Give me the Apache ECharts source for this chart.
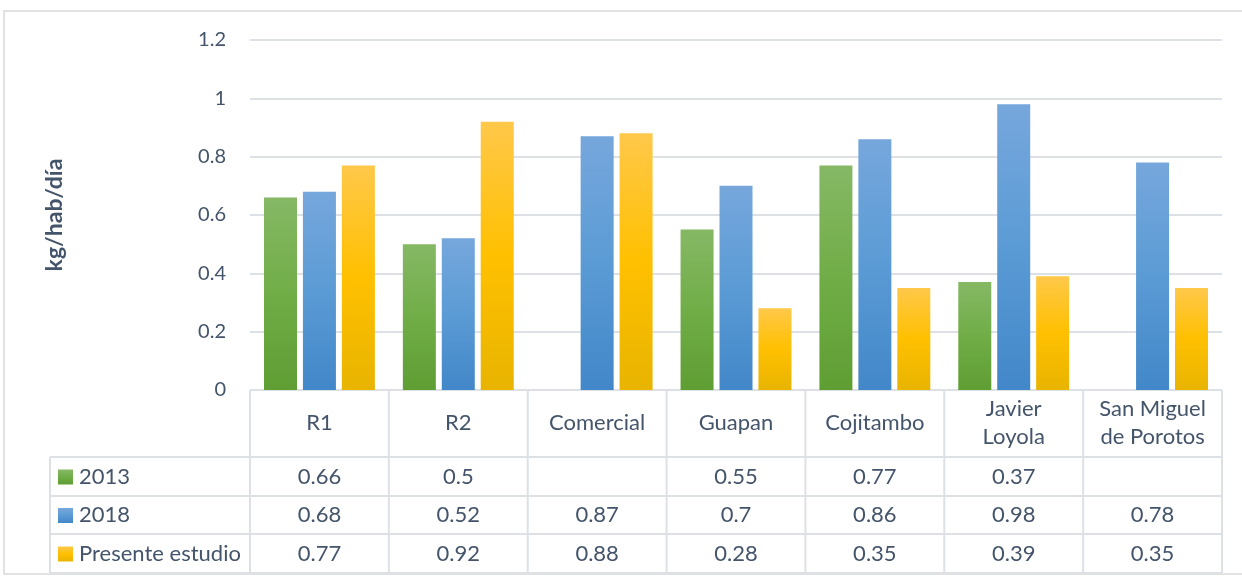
<!DOCTYPE html>
<html>
<head>
<meta charset="utf-8">
<script src="https://cdn.jsdelivr.net/npm/echarts@6/dist/echarts.min.js"></script>
<style>
  html, body { margin: 0; padding: 0; background: #fff; }
  #chart { width: 1242px; height: 577px; }
</style>
</head>
<body>
<div id="chart"></div>
<script>
const categories = ["R1", "R2", "Comercial", "Guapan", "Cojitambo", "Javier\nLoyola", "San Miguel\nde Porotos"];
const seriesNames = ["2013", "2018", "Presente estudio"];
const values2013 = [0.66, 0.5, null, 0.55, 0.77, 0.37, null];
const values2018 = [0.68, 0.52, 0.87, 0.7, 0.86, 0.98, 0.78];
const valuesPresente = [0.77, 0.92, 0.88, 0.28, 0.35, 0.39, 0.35];
const yTicks = [0, 0.2, 0.4, 0.6, 0.8, 1, 1.2];

const font = "Lato, 'Open Sans', sans-serif";
const textColor = "#44546a";
const lineColor = "#dde1e6";

function grad(top, mid, bottom) {
  return new echarts.graphic.LinearGradient(0, 0, 0, 1, [
    { offset: 0, color: top },
    { offset: 0.5, color: mid },
    { offset: 1, color: bottom }
  ]);
}
const fills = [
  grad("#86b865", "#70ad47", "#5f9e33"),
  grad("#76a7dc", "#5b9bd5", "#4287c9"),
  grad("#ffc84a", "#ffc000", "#e8b400")
];
const allValues = [values2013, values2018, valuesPresente];

const chart = echarts.init(document.getElementById("chart"));

const gridLeft = 250, gridRight = 1222, gridTop = 40, gridBottom = 390;
const rowLines = [390, 457, 496, 534, 573];
const tableLeft = 50;

chart.setOption({
  animation: false,
  grid: { left: gridLeft, top: gridTop, width: gridRight - gridLeft, height: gridBottom - gridTop },
  xAxis: {
    type: "category",
    data: categories,
    axisLine: { show: false },
    axisTick: { show: false },
    axisLabel: { show: false }
  },
  yAxis: {
    type: "value",
    min: 0,
    max: 1.2,
    interval: 0.2,
    name: "kg/hab/día",
    nameLocation: "middle",
    nameGap: 184,
    nameTextStyle: { fontFamily: font, fontSize: 23, fontWeight: "bold", color: textColor },
    axisLine: { show: false },
    axisTick: { show: false },
    axisLabel: {
      fontFamily: font, fontSize: 20, color: textColor, margin: 24,
      formatter: v => String(Math.round(v * 10) / 10)
    },
    splitLine: { lineStyle: { color: lineColor, width: 2 } }
  },
  series: seriesNames.map((name, i) => ({
    name: name,
    type: "bar",
    data: allValues[i],
    barWidth: 33,
    barGap: "18%",
    itemStyle: { color: fills[i] }
  }))
});

// data table under the plot
const g = [];
const colW = (gridRight - gridLeft) / categories.length;
function hline(x1, x2, y) {
  g.push({ type: "line", shape: { x1, y1: y, x2, y2: y }, style: { stroke: lineColor, lineWidth: 2 }, silent: true });
}
function vline(x, y1, y2) {
  g.push({ type: "line", shape: { x1: x, y1, x2: x, y2 }, style: { stroke: lineColor, lineWidth: 2 }, silent: true });
}
function text(str, x, y, align) {
  g.push({
    type: "text", x, y, silent: true,
    style: { text: str, fill: textColor, font: "22px " + font, align: align || "center", verticalAlign: "middle", lineHeight: 28 }
  });
}
// outer chart border
g.push({ type: "rect", shape: { x: 4, y: 11, width: 1240, height: 563 }, style: { fill: null, stroke: "#d9d9d9", lineWidth: 1.5 }, silent: true });

hline(gridLeft, gridRight, rowLines[0]);
for (let r = 1; r < rowLines.length; r++) hline(tableLeft, gridRight, rowLines[r]);
vline(tableLeft, rowLines[1], rowLines[4]);
for (let c = 0; c <= categories.length; c++) vline(gridLeft + c * colW, rowLines[0], rowLines[4]);

categories.forEach((cat, c) => {
  const cx = chart.convertToPixel({ xAxisIndex: 0 }, c);
  text(cat, cx, (rowLines[0] + rowLines[1]) / 2 - 1);
  allValues.forEach((vals, s) => {
    if (vals[c] != null) text(String(vals[c]), cx, (rowLines[s + 1] + rowLines[s + 2]) / 2);
  });
});
seriesNames.forEach((name, s) => {
  const cy = (rowLines[s + 1] + rowLines[s + 2]) / 2;
  g.push({ type: "rect", shape: { x: 58, y: cy - 7, width: 15, height: 15 }, style: { fill: fills[s] }, silent: true });
  text(name, 79, cy, "left");
});

chart.setOption({ graphic: g });
</script>
</body>
</html>
